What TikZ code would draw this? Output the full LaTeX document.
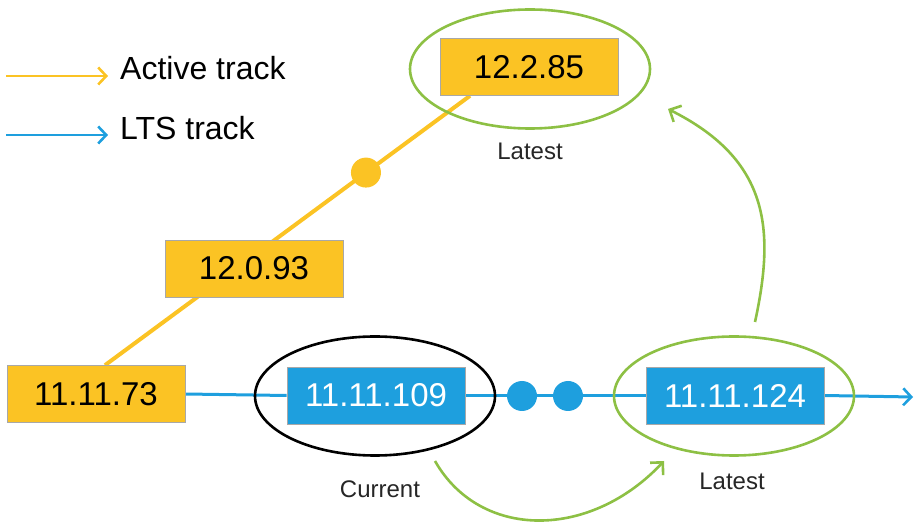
\documentclass[tikz,border=0pt]{standalone}
\usepackage{fontspec}
\setmainfont{Liberation Sans}
\usetikzlibrary{shapes.geometric,arrows.meta,calc}
\definecolor{ayel}{HTML}{FBC324}
\definecolor{lblue}{HTML}{1E9FDE}
\definecolor{lgreen}{HTML}{8DC044}
\definecolor{bgray}{HTML}{A8A8A8}
\tikzset{
  ybox/.style={fill=ayel,draw=bgray,line width=0.6pt,minimum width=178pt,minimum height=57pt,inner sep=0pt,font=\fontsize{33}{38}\selectfont,text=black},
  bbox/.style={fill=lblue,draw=bgray,line width=0.6pt,minimum width=178pt,minimum height=57pt,inner sep=0pt,font=\fontsize{33}{38}\selectfont,text=white},
  ring/.style={ellipse,draw=#1,line width=2.6pt,minimum width=240pt,minimum height=119pt,inner sep=0pt},
  lbl/.style={font=\fontsize{24}{28}\selectfont,text=black!85},
  legtxt/.style={font=\fontsize{32}{36}\selectfont,anchor=west,inner sep=0pt},
  dot/.style={circle,fill=#1,minimum size=30pt,inner sep=0pt},
  chev/.style={-{Straight Barb[length=8pt,width=17pt,line width=2.6pt]}},
  garrow/.style={draw=lgreen,line width=2.6pt,-{Straight Barb[length=9pt,width=18pt,line width=2.6pt]}}
}
\begin{document}
\begin{tikzpicture}[x=1pt,y=-1pt]
\useasboundingbox (0,0) rectangle (919,526);
% legend
\node[legtxt] (lact) at (120,68) {Active track};
\node[legtxt] (llts) at (120,128) {LTS track};
\coordinate (la0) at (6,76);
\coordinate (la1) at (108,76);
\coordinate (lb0) at (6,135);
\coordinate (lb1) at (108,135);
\draw[ayel,line width=2.4pt,chev] (la0) -- (la1);
\draw[lblue,line width=2.4pt,chev] (lb0) -- (lb1);
% box positions
\node[ybox] (b73) at (96,394) {11.11.73};
\node[ybox] (b93) at (254,268.5) {12.0.93};
\node[ybox] (b85) at (529,67) {12.2.85};
\node[bbox] (b109) at (376,395.5) {11.11.109};
\node[bbox] (b124) at (735,395.5) {11.11.124};
\coordinate (lend) at (913,397);
% tracks
\draw[ayel,line width=4pt] ([xshift=9pt]b73.north) -- ([xshift=-59pt]b85.south)
  node[pos=0.715,dot=ayel] (yd) {};
\draw[lblue,line width=3pt] (b73.east) -- (b109.west);
\draw[lblue,line width=3pt] (b109.east) -- (b124.west);
\draw[lblue,line width=3pt,chev] (b124.east) -- (lend);
% boxes on top of the tracks
\node[ybox] at (b73) {11.11.73};
\node[ybox] at (b93) {12.0.93};
\node[ybox] at (b85) {12.2.85};
\node[bbox] at (b109) {11.11.109};
\node[bbox] at (b124) {11.11.124};
% dots
\node[dot=lblue] (d1) at (522,396) {};
\node[dot=lblue] (d2) at (568,396) {};
% ellipses
\node[ring=black] (e109) at (375,396) {};
\node[ring=lgreen] (e124) at (734,396) {};
\node[ring=lgreen] (e85) at (530,69) {};
% labels
\node[lbl] (lcur) at (380,489) {Current};
\node[lbl] (llat1) at (732,481) {Latest};
\node[lbl] (llat2) at (530,151) {Latest};
% green arrows
\coordinate (g1s) at (435,461);
\coordinate (g1e) at (664,461);
\coordinate (g2s) at (755,322);
\coordinate (g2e) at (668,109);
\draw[garrow] (g1s) .. controls (480,540) and (590,540) .. (g1e);
\draw[garrow] (g2s) .. controls (775,230) and (770,160) .. (g2e);
\end{tikzpicture}
\end{document}
